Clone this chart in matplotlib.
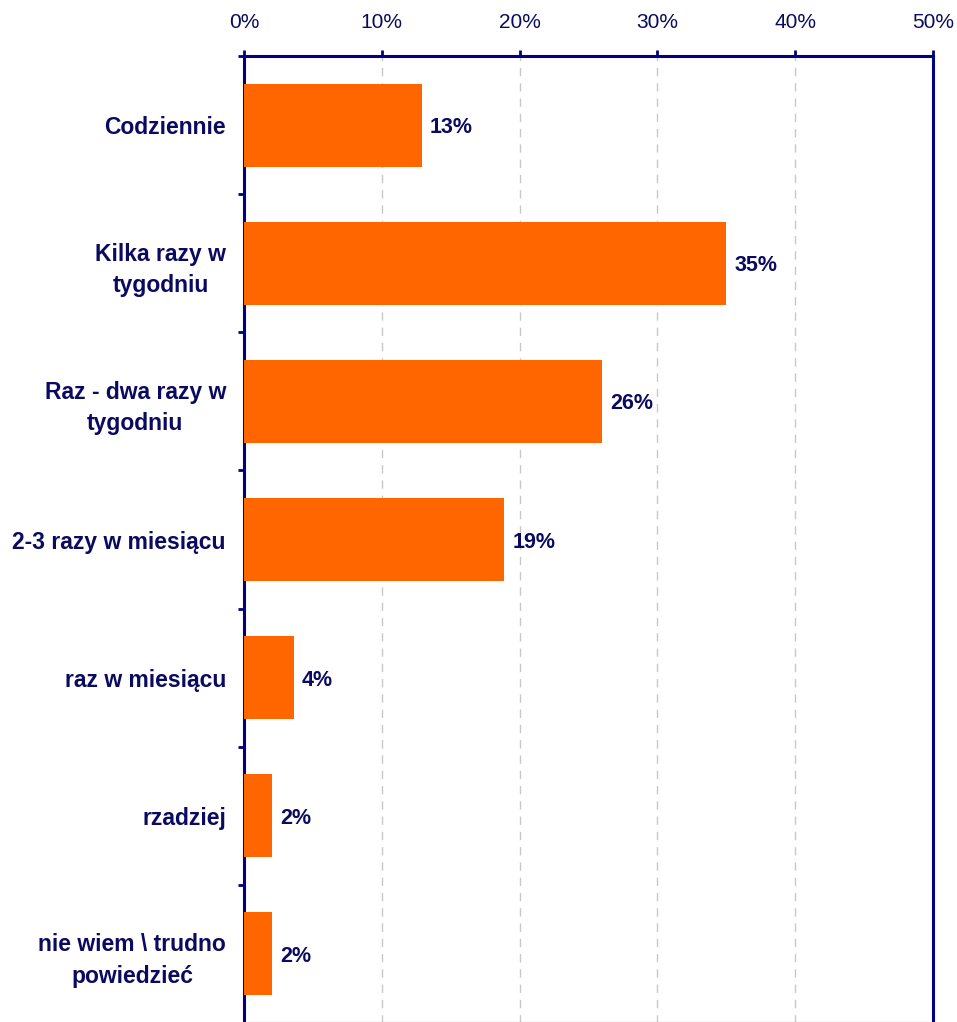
import numpy as np
import matplotlib.pyplot as plt
from matplotlib.ticker import FixedLocator

plt.rcParams['font.family'] = ['Liberation Sans', 'DejaVu Sans']

categories = ['Codziennie', 'Kilka razy w\ntygodniu', 'Raz - dwa razy w\ntygodniu',
              '2-3 razy w miesiącu', 'raz w miesiącu', 'rzadziej',
              'nie wiem \\ trudno\npowiedzieć']
values = [12.9, 35.0, 26.0, 18.9, 3.6, 2.0, 2.0]
labels = ['13%', '35%', '26%', '19%', '4%', '2%', '2%']
xticks = [0, 10, 20, 30, 40, 50]

navy = '#000080'
text_col = '#0A0A60'
orange = '#FF6600'

fig = plt.figure(figsize=(9.57, 10.22), dpi=100)
ax = fig.add_axes([244/957, -1/1022, (933-244)/957, (1023-56)/1022])

y = np.arange(len(categories))
ax.barh(y, values, height=0.6, color=orange, zorder=3)
for yi, v, lab in zip(y, values, labels):
    ax.text(v + 0.6, yi, lab, va='center_baseline', ha='left', fontsize=15.5,
            fontweight='bold', color=text_col)

ax.set_xlim(0, 50)
ax.set_ylim(len(categories) - 0.5, -0.5)
ax.xaxis.tick_top()
ax.set_xticks(xticks)
ax.set_xticklabels([f'{t}%' for t in xticks], fontsize=15, color=text_col)
ax.tick_params(axis='x', direction='out', length=4, width=2, color=navy, pad=13.5)

ax.set_yticks(y)
ax.set_yticklabels(categories, fontsize=16.5, fontweight='bold', color=text_col,
                   linespacing=1.45, multialignment='center')
ax.tick_params(axis='y', which='major', length=0, pad=13)
ax.yaxis.set_minor_locator(FixedLocator(np.arange(-0.5, len(categories), 1.0)))
ax.tick_params(axis='y', which='minor', direction='out', length=4.5, width=2, color=navy)

for t in xticks[1:-1]:
    ax.axvline(t, color='#C8C8C8', linestyle=(0, (6, 5)), linewidth=1, zorder=1)

for s in ['top', 'left', 'right', 'bottom']:
    ax.spines[s].set_color(navy)
    ax.spines[s].set_linewidth(2.2)

fig.savefig('out.png', dpi=100)
